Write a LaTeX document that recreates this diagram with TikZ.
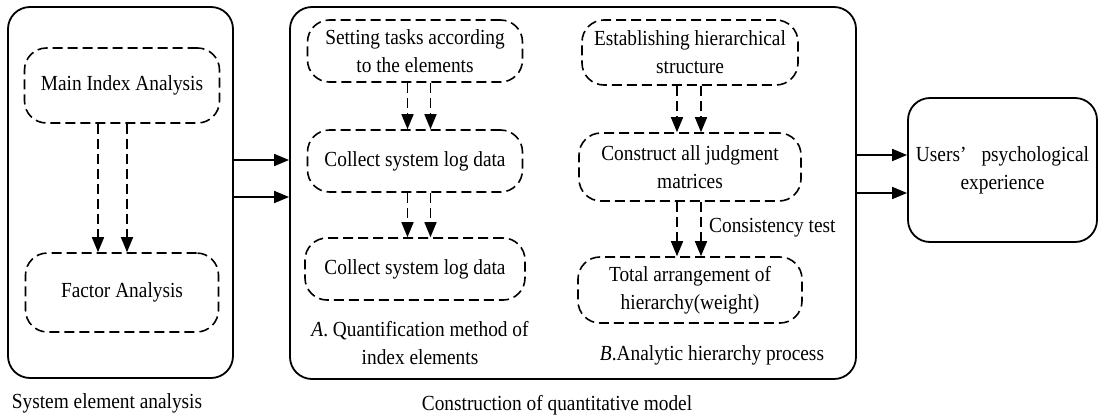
\documentclass[tikz,border=0pt]{standalone}
\usepackage{fontspec}
\setmainfont{Liberation Serif}[FakeStretch=0.9]
\usepackage{tikz}
\usetikzlibrary{positioning,arrows.meta,calc}

\begin{document}
\begin{tikzpicture}[x=1pt, y=-1pt,
    every node/.style={font=\fontsize{21.5}{28}\selectfont, inner sep=0pt, align=center},
    outer/.style={rectangle, rounded corners=22pt, draw, line width=1.8pt},
    dbox/.style={rectangle, rounded corners=22pt, draw, line width=1.6pt,
      dash pattern=on 10pt off 5pt},
    arr/.style={-{Triangle[length=15pt, width=12pt]}, line width=1.7pt},
    darr/.style={-{Triangle[length=15pt, width=12pt]}, line width=1.5pt,
      dash pattern=on 10pt off 5pt}]
    \useasboundingbox (0,0) rectangle (1098,418);
    % outer frames
    \node[outer, minimum width=225pt, minimum height=371pt] (sys) at (120.5,192.5) {};
    \node[outer, minimum width=566pt, minimum height=372pt] (qm) at (573,193) {};
    \node[outer, minimum width=189pt, minimum height=144pt] (ux) at (1002.5,170)
      {Users\makebox[1em][l]{’}psychological\\experience};
    % system element analysis
    \node[dbox, minimum width=195pt, minimum height=75pt] (mia) at (122,85.5) {Main Index Analysis};
    \node[dbox, minimum width=193pt, minimum height=79pt] (fa) at (122,292.5) {Factor Analysis};
    % A. quantification
    \node[dbox, minimum width=215pt, minimum height=62pt] (task) at (415,51)
      {Setting tasks according\\to the elements};
    \node[dbox, minimum width=215pt, minimum height=62pt] (log1) at (415,161) {Collect system log data};
    \node[dbox, minimum width=220pt, minimum height=62pt] (log2) at (415,269) {Collect system log data};
    % B. AHP
    \node[dbox, minimum width=216pt, minimum height=65pt] (hs) at (690,52.5)
      {Establishing hierarchical\\structure};
    \node[dbox, minimum width=222pt, minimum height=68pt] (jm) at (690,167)
      {Construct all judgment\\matrices};
    \node[dbox, minimum width=224pt, minimum height=66pt] (tw) at (690,290)
      {Total arrangement of\\hierarchy(weight)};
    % labels
    \node[anchor=west] (ct) at (709,228) {Consistency test};
    \node (la) at (420,343.5) {\textit{A}. Quantification method of\\index elements};
    \node (lb) at (712,355) {\textit{B}.Analytic hierarchy process};
    \node (ls) at (107,403) {System element analysis};
    \node (lq) at (557,405) {Construction of quantitative model};
    % dashed arrows
    \foreach \dx in {-24,5}
      \draw[darr] ([xshift=\dx pt]mia.south) -- ([xshift=\dx pt]fa.north);
    \foreach \dx in {-7.5,15.5} {
      \draw[darr] ([xshift=\dx pt]task.south) -- ([xshift=\dx pt]log1.north);
      \draw[darr] ([xshift=\dx pt]log1.south) -- ([xshift=\dx pt]log2.north);
    }
    \foreach \dx in {-13,11} {
      \draw[darr] ([xshift=\dx pt]hs.south) -- ([xshift=\dx pt]jm.north);
      \draw[darr] ([xshift=\dx pt]jm.south) -- ([xshift=\dx pt]tw.north);
    }
    % solid arrows
    \foreach \dy in {32.5,-4.5}
      \draw[arr] ([yshift=\dy pt]sys.east) -- ([yshift=\dy pt]sys.east -| qm.west);
    \foreach \dy in {38,0}
      \draw[arr] ([yshift=\dy pt]qm.east) -- ([yshift=\dy pt]qm.east -| ux.west);
  \end{tikzpicture}
\end{document}
